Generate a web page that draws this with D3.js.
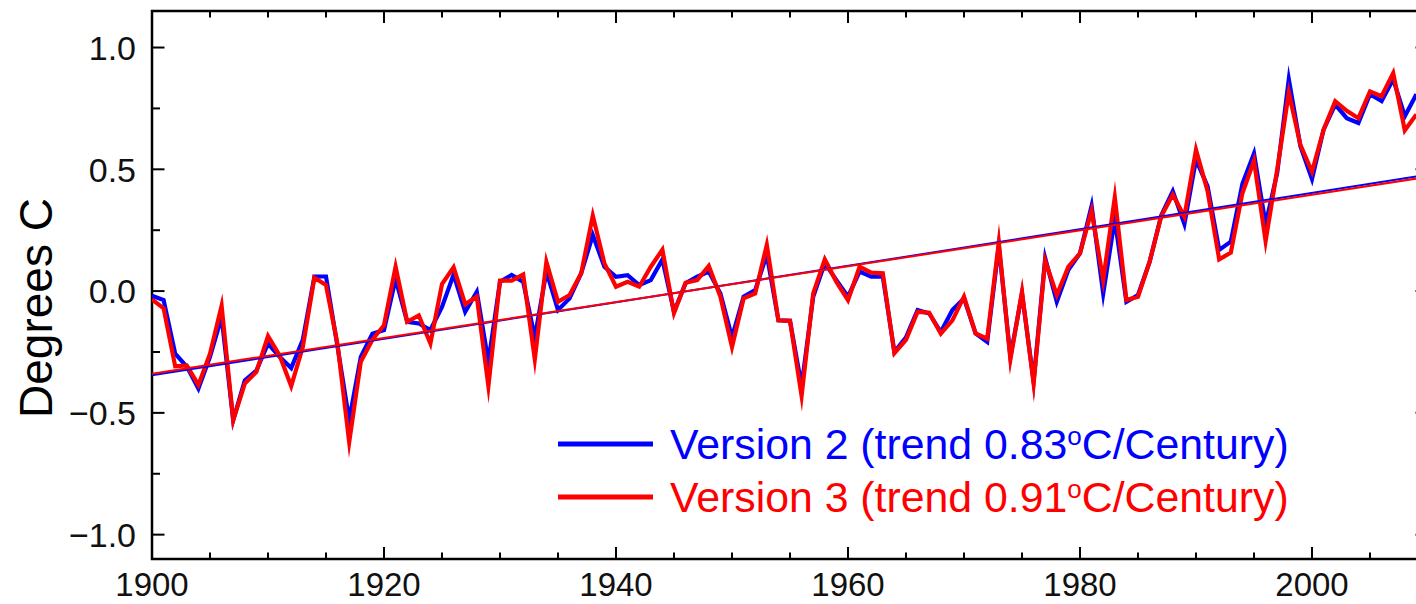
<!DOCTYPE html>
<html>
<head>
<meta charset="utf-8">
<script src="https://cdn.jsdelivr.net/npm/d3@7"></script>
<style>
  html, body { margin: 0; padding: 0; background: #fff; overflow: hidden; }
  svg { display: block; }
  text { font-family: "Liberation Sans", Arial, Helvetica, sans-serif; }
</style>
</head>
<body>
<svg id="chart" width="1416" height="604"></svg>
<script>
// Annual global temperature anomalies (°C), two dataset versions, 1900–2009
const years = d3.range(1900, 2010);

const version2 = [
  -0.019, -0.037, -0.257, -0.310, -0.400, -0.270, -0.106, -0.530, -0.367, -0.326,
  -0.216, -0.270, -0.316, -0.200,  0.060,  0.060, -0.230, -0.530, -0.270, -0.175,
  -0.160,  0.050, -0.126, -0.133, -0.160, -0.065,  0.068, -0.085, -0.003, -0.290,
   0.038,  0.066,  0.038, -0.190,  0.080, -0.078, -0.030,  0.073,  0.230,  0.100,
   0.059,  0.065,  0.025,  0.045,  0.130, -0.085,  0.032,  0.059,  0.080, -0.010,
  -0.190, -0.023,  0.004,  0.150, -0.120, -0.122, -0.390, -0.023,  0.115,  0.045,
  -0.023,  0.080,  0.059,  0.059, -0.250, -0.190, -0.078, -0.092, -0.168, -0.078,
  -0.030, -0.174, -0.209,  0.185, -0.270, -0.010, -0.370,  0.135, -0.044,  0.087,
   0.155,  0.350, -0.010,  0.295, -0.044, -0.016,  0.120,  0.310,  0.410,  0.275,
   0.540,  0.430,  0.169,  0.203,  0.440,  0.565,  0.275,  0.485,  0.870,  0.595,
   0.460,  0.663,  0.766,  0.710,  0.690,  0.808,  0.780,  0.870,  0.718,  0.808
];

const version3 = [
  -0.034, -0.071, -0.309, -0.305, -0.385, -0.257, -0.060, -0.530, -0.380, -0.332,
  -0.185, -0.264, -0.390, -0.230,  0.055,  0.025, -0.220, -0.620, -0.290, -0.200,
  -0.140,  0.100, -0.126, -0.100, -0.215,  0.029,  0.098, -0.054, -0.023, -0.390,
   0.043,  0.043,  0.068, -0.280,  0.120, -0.044, -0.016,  0.073,  0.310,  0.114,
   0.018,  0.038,  0.018,  0.100,  0.170, -0.090,  0.034,  0.045,  0.103, -0.023,
  -0.230, -0.030, -0.010,  0.190, -0.120, -0.122, -0.430, -0.010,  0.130,  0.038,
  -0.037,  0.100,  0.076,  0.073, -0.255, -0.200, -0.085, -0.089, -0.175, -0.120,
  -0.023, -0.174, -0.195,  0.200, -0.280, -0.003, -0.380,  0.125, -0.016,  0.100,
   0.155,  0.330,  0.045,  0.385, -0.037, -0.023,  0.120,  0.306,  0.396,  0.306,
   0.580,  0.410,  0.130,  0.158,  0.402,  0.535,  0.205,  0.499,  0.815,  0.600,
   0.490,  0.663,  0.780,  0.740,  0.710,  0.820,  0.800,  0.895,  0.660,  0.725
];

// Linear trend lines: value at the first and last year
const trendYears = [1900, 2009];
const trendV2 = [-0.346, 0.471];
const trendV3 = [-0.339, 0.462];

const xTicksMajor = [1900, 1920, 1940, 1960, 1980, 2000];
const yTicksMajor = [-1.0, -0.5, 0.0, 0.5, 1.0];
const yTickLabels = ["\u22121.0", "\u22120.5", "0.0", "0.5", "1.0"];

const legendLabels = [
  { name: "Version 2", trend: "0.83", color: "#0000ff" },
  { name: "Version 3", trend: "0.91", color: "#ff0000" }
];

const svg = d3.select("#chart");
const plotLeft = 152, plotRight = 1428, plotTop = 11, plotBottom = 559;

const x = d3.scaleLinear().domain([1900, 2010]).range([plotLeft, plotRight]);
const y = d3.scaleLinear().domain([-1.1, 1.15]).range([plotBottom, plotTop]);

svg.append("defs").append("clipPath").attr("id", "plot")
  .append("rect").attr("x", plotLeft).attr("y", plotTop)
  .attr("width", plotRight - plotLeft).attr("height", plotBottom - plotTop);

// Inward tick marks on all four sides
const minorX = d3.range(1900, 2011, 5);
const minorY = d3.range(-1.0, 1.01, 0.25);
const ticks = svg.append("g").attr("stroke", "#000").attr("stroke-width", 2);

minorX.forEach(t => {
  const len = (t % 20 === 0) ? 12 : 6.5;
  ticks.append("line").attr("x1", x(t)).attr("x2", x(t)).attr("y1", plotBottom).attr("y2", plotBottom - len);
  ticks.append("line").attr("x1", x(t)).attr("x2", x(t)).attr("y1", plotTop).attr("y2", plotTop + len);
});
minorY.forEach(t => {
  const major = Math.abs(t * 2 - Math.round(t * 2)) < 1e-6;
  const len = major ? 12.5 : 8;
  ticks.append("line").attr("x1", plotLeft).attr("x2", plotLeft + len).attr("y1", y(t)).attr("y2", y(t));
  ticks.append("line").attr("x1", plotRight).attr("x2", plotRight - len).attr("y1", y(t)).attr("y2", y(t));
});

// Frame
svg.append("rect")
  .attr("x", plotLeft).attr("y", plotTop)
  .attr("width", plotRight - plotLeft).attr("height", plotBottom - plotTop)
  .attr("fill", "none").attr("stroke", "#000").attr("stroke-width", 2.5);

// Tick labels
svg.append("g").selectAll("text").data(xTicksMajor).join("text")
  .attr("x", d => x(d)).attr("y", 596)
  .attr("text-anchor", "middle")
  .attr("font-size", 33).attr("fill", "#111")
  .text(d => d);

svg.append("g").selectAll("text").data(yTicksMajor).join("text")
  .attr("x", 136).attr("y", d => y(d))
  .attr("dy", "0.36em")
  .attr("text-anchor", "end")
  .attr("font-size", 34).attr("fill", "#111")
  .text((d, i) => yTickLabels[i]);

// Axis title
svg.append("text")
  .attr("transform", "translate(52,308) rotate(-90)")
  .attr("text-anchor", "middle")
  .attr("font-size", 46).attr("fill", "#000")
  .text("Degrees C");

// Series
const line = d3.line().x((d, i) => x(years[i])).y(d => y(d));
const plot = svg.append("g").attr("clip-path", "url(#plot)");

plot.append("path").datum(version2)
  .attr("d", line).attr("fill", "none")
  .attr("stroke", "#0000ff").attr("stroke-width", 4.2)
  .attr("stroke-linejoin", "miter").attr("stroke-miterlimit", 10);

plot.append("path").datum(version3)
  .attr("d", line).attr("fill", "none")
  .attr("stroke", "#ff0000").attr("stroke-width", 4.2)
  .attr("stroke-linejoin", "miter").attr("stroke-miterlimit", 10);

const trendLine = d3.line().x((d, i) => x(trendYears[i])).y(d => y(d));
plot.append("path").datum(trendV2)
  .attr("d", trendLine).attr("fill", "none")
  .attr("stroke", "#0000ff").attr("stroke-width", 2);
plot.append("path").datum(trendV3)
  .attr("d", trendLine).attr("fill", "none")
  .attr("stroke", "#ff0000").attr("stroke-width", 2);

// Legend
const legend = svg.append("g");
legendLabels.forEach((s, i) => {
  const ly = 444 + i * 53;
  legend.append("line")
    .attr("x1", 558).attr("x2", 653).attr("y1", ly).attr("y2", ly)
    .attr("stroke", s.color).attr("stroke-width", 5);
  const t = legend.append("text")
    .attr("x", 670).attr("y", ly + 15)
    .attr("font-size", 42.8).attr("fill", s.color);
  t.append("tspan").text(`${s.name} (trend ${s.trend}`);
  t.append("tspan").attr("font-size", 26).attr("dy", -14).text("o");
  t.append("tspan").attr("dy", 14).text("C/Century)");
});
</script>
</body>
</html>
